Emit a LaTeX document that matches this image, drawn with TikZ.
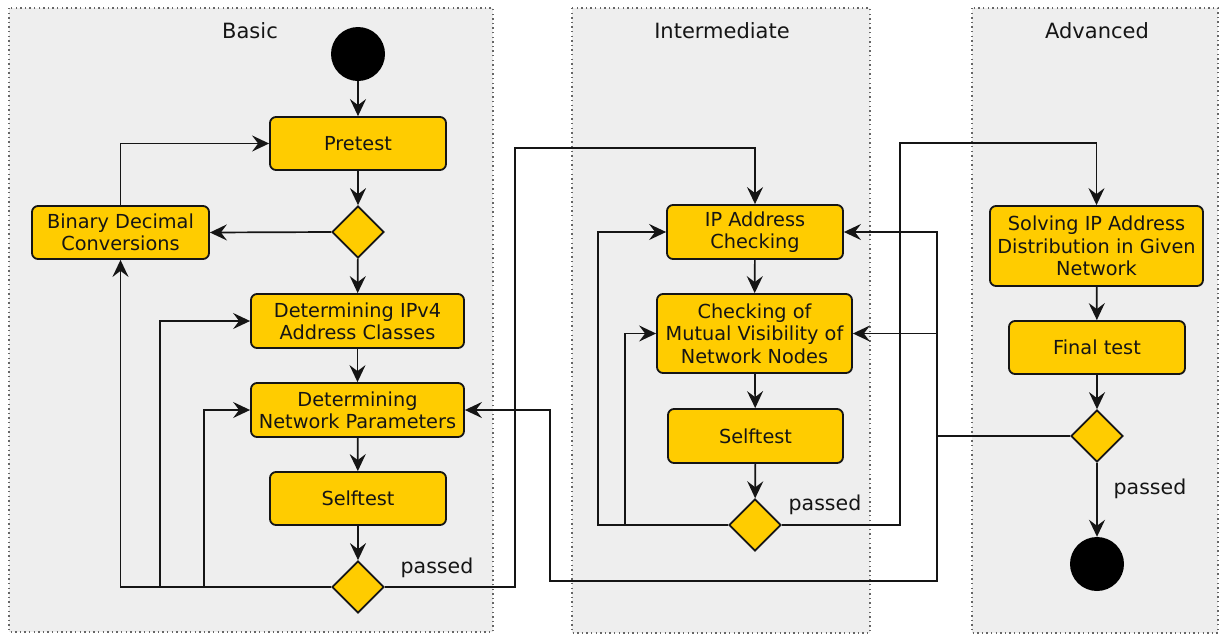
\documentclass[tikz,border=0pt]{standalone}
\usepackage{fontspec}
\setmainfont{DejaVu Sans}
\usetikzlibrary{arrows.meta,shapes.geometric}
\definecolor{laneFill}{HTML}{EEEEEE}
\definecolor{laneEdge}{HTML}{666666}
\definecolor{boxFill}{HTML}{FFCC00}
\definecolor{ink}{HTML}{151515}
\tikzset{
  lane/.style={draw=laneEdge, fill=laneFill, line width=1.4pt, dash pattern=on 1.4pt off 3.2pt},
  lanetitle/.style={text=ink, font=\fontsize{21}{25}\selectfont},
  act/.style={draw=ink, line width=1.8pt, fill=boxFill, rounded corners=6pt, align=center,
    inner sep=0pt, text=ink, font=\fontsize{19.3}{22.3}\selectfont},
  dec/.style={diamond, aspect=1, draw=ink, line width=1.7pt, fill=boxFill,
    minimum width=52pt, minimum height=52pt, inner sep=0pt},
  term/.style={circle, fill=black, minimum size=54pt, inner sep=0pt},
  flow/.style={draw=ink, line width=1.7pt, -{Stealth[length=17pt,width=16pt,inset=6pt]}},
  guard/.style={text=ink, font=\fontsize{20.5}{24}\selectfont}
}
\begin{document}
\begin{tikzpicture}[x=1pt,y=-1pt]
  \useasboundingbox[fill=white] (0,0) rectangle (1221,635);

  % swimlanes
  \draw[lane] (9,8) rectangle (493,632);
  \draw[lane] (572,8) rectangle (870,633);
  \draw[lane] (972,8) rectangle (1218,633);
  \node[lanetitle] (tBasic) at (250,31) {Basic};
  \node[lanetitle] (tInter) at (722,31) {Intermediate};
  \node[lanetitle] (tAdv) at (1097,31) {Advanced};

  % Basic lane
  \node[term] (start) at (358,54) {};
  \node[act, minimum width=176pt, minimum height=53pt] (pre) at (358,143.5) {Pretest};
  \node[dec] (d1) at (358,232) {};
  \node[act, minimum width=177pt, minimum height=53pt] (bin) at (120.5,232.5) {Binary Decimal\\Conversions};
  \node[act, minimum width=213pt, minimum height=54pt] (ipv4) at (357.5,321) {Determining IPv4\\Address Classes};
  \node[act, minimum width=213pt, minimum height=54pt] (net) at (357.5,410) {Determining\\Network Parameters};
  \node[act, minimum width=176pt, minimum height=53pt] (st1) at (358,498.5) {Selftest};
  \node[dec] (d2) at (358,587) {};
  \node[guard] (p1) at (437,568) {passed};

  % Intermediate lane
  \node[act, minimum width=176pt, minimum height=54pt] (ipc) at (755,232) {IP Address\\Checking};
  \node[act, minimum width=195pt, minimum height=79pt] (mut) at (754.5,333.5) {Checking of\\Mutual Visibility of\\Network Nodes};
  \node[act, minimum width=175pt, minimum height=54pt] (st2) at (755.5,436) {Selftest};
  \node[dec] (d3) at (755,525) {};
  \node[guard] (p2) at (825,505) {passed};

  % Advanced lane
  \node[act, minimum width=213pt, minimum height=80pt] (sol) at (1096.5,246) {Solving IP Address\\Distribution in Given\\Network};
  \node[act, minimum width=176pt, minimum height=53pt] (fin) at (1097,347.5) {Final test};
  \node[dec] (d4) at (1097,436) {};
  \node[term] (end) at (1097,564) {};
  \node[guard] (p3) at (1150,489) {passed};

  % bend points of the routed connectors
  \coordinate (b1) at (160,587);
  \coordinate (b2) at (204,587);
  \coordinate (k1) at (515,148);
  \coordinate (k2) at (598,525);
  \coordinate (k3) at (625,525);
  \coordinate (k4) at (900,143);
  \coordinate (k5) at (937,436);
  \coordinate (k6) at (937,333.5);
  \coordinate (k7) at (937,581);
  \coordinate (k8) at (550,581);

  % Basic flow
  \draw[flow] (start) -- (pre);
  \draw[flow] (pre) -- (d1);
  \draw[flow] (d1.west) -- (bin.east);
  \draw[flow] (bin.north) |- (pre.west);
  \draw[flow] (d1) -- (ipv4);
  \draw[flow] (ipv4) -- (net);
  \draw[flow] (net) -- (st1);
  \draw[flow] (st1) -- (d2);
  \draw[flow] (d2.west) -| (bin.south);
  \draw[flow] (b1) |- (ipv4.west);
  \draw[flow] (b2) |- (net.west);
  \draw[flow] (d2.east) -| (k1) -| (ipc.north);

  % Intermediate flow
  \draw[flow] (ipc) -- (mut);
  \draw[flow] (mut) -- (st2);
  \draw[flow] (st2) -- (d3);
  \draw[flow] (d3.west) -- (k2) |- (ipc.west);
  \draw[flow] (k3) |- (mut.west);
  \draw[flow] (d3.east) -| (k4) -| (sol.north);

  % Advanced flow
  \draw[flow] (sol) -- (fin);
  \draw[flow] (fin) -- (d4);
  \draw[flow] (d4) -- (end);
  \draw[flow] (d4.west) -- (k5) |- (ipc.east);
  \draw[flow] (k6) -- (mut.east);
  \draw[flow] (k5) -- (k7) -- (k8) |- (net.east);
\end{tikzpicture}
\end{document}
